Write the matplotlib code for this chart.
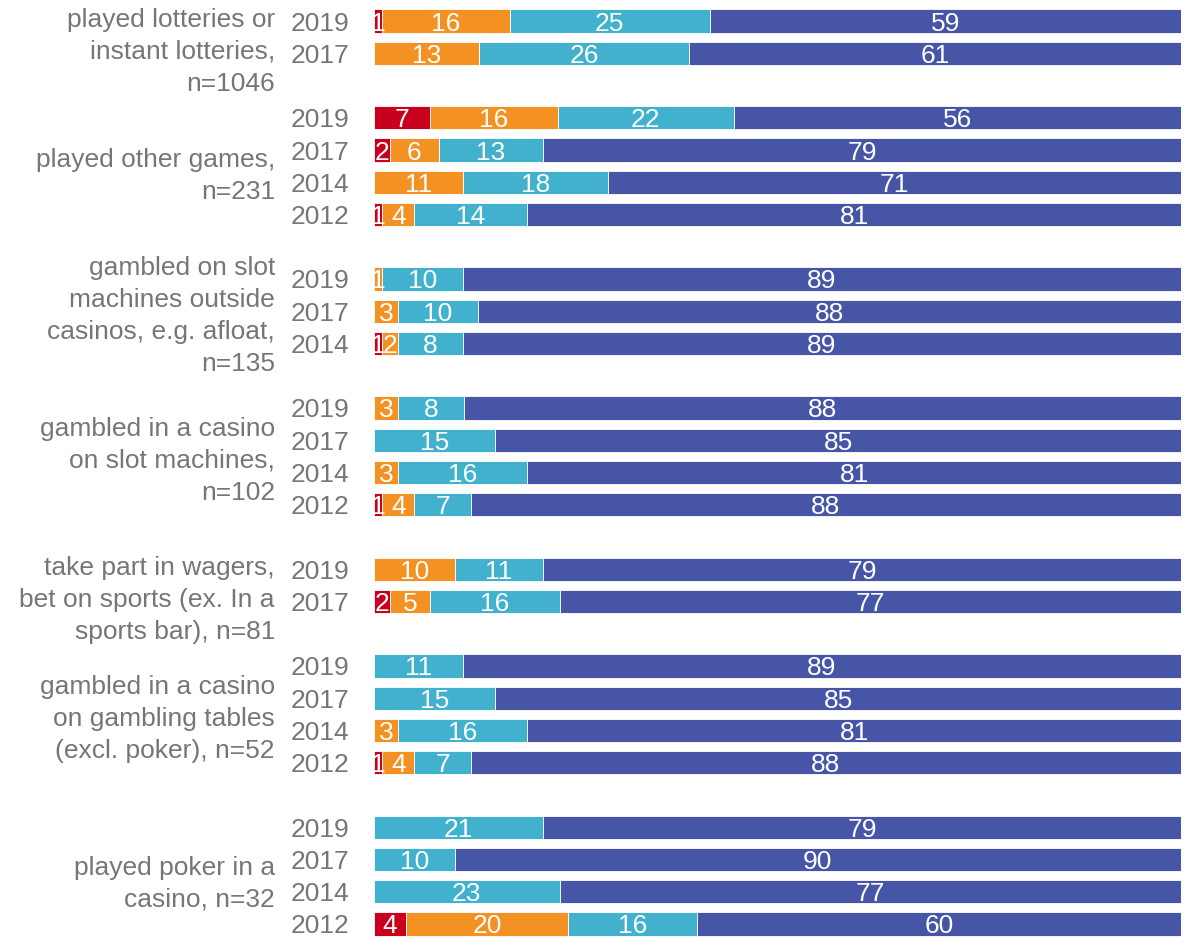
import numpy as np
import matplotlib.pyplot as plt

plt.rcParams["font.family"] = ["Liberation Sans", "DejaVu Sans"]

# groups, top to bottom
groups = [
    "played lotteries or\ninstant lotteries,\nn=1046",
    "played other games,\nn=231",
    "gambled on slot\nmachines outside\ncasinos, e.g. afloat,\nn=135",
    "gambled in a casino\non slot machines,\nn=102",
    "take part in wagers,\nbet on sports (ex. In a\nsports bar), n=81",
    "gambled in a casino\non gambling tables\n(excl. poker), n=52",
    "played poker in a\ncasino, n=32",
]
years = [
    ["2019", "2017"],
    ["2019", "2017", "2014", "2012"],
    ["2019", "2017", "2014"],
    ["2019", "2017", "2014", "2012"],
    ["2019", "2017"],
    ["2019", "2017", "2014", "2012"],
    ["2019", "2017", "2014", "2012"],
]

# four answer categories per row (red, orange, light blue, dark blue)
red = [
    [1, 0],
    [7, 2, 0, 1],
    [0, 0, 1],
    [0, 0, 0, 1],
    [0, 2],
    [0, 0, 0, 1],
    [0, 0, 0, 4],
]
orange = [
    [16, 13],
    [16, 6, 11, 4],
    [1, 3, 2],
    [3, 0, 3, 4],
    [10, 5],
    [0, 0, 3, 4],
    [0, 0, 0, 20],
]
light = [
    [25, 26],
    [22, 13, 18, 14],
    [10, 10, 8],
    [8, 15, 16, 7],
    [11, 16],
    [11, 15, 16, 7],
    [21, 10, 23, 16],
]
dark = [
    [59, 61],
    [56, 79, 71, 81],
    [89, 88, 89],
    [88, 85, 81, 88],
    [79, 77],
    [89, 85, 81, 88],
    [79, 90, 77, 60],
]

colors = ["#C8001E", "#F39222", "#41B1CE", "#4755A6"]
grey = "#767676"

# label centre of each group, in row units (layout)
label_y = [0.96, 4.81, 9.15, 13.64, 17.95, 21.64, 26.76]

fig = plt.figure(figsize=(11.94, 9.41), dpi=100)
ax = fig.add_axes([374 / 1194, 0.001, 807 / 1194, 0.9938])

pos = 0
for g in range(len(groups)):
    for i, yr in enumerate(years[g]):
        vals = np.array([red[g][i], orange[g][i], light[g][i], dark[g][i]], dtype=float)
        widths = vals / vals.sum() * 100
        left = 0.0
        for k in range(4):
            if vals[k] > 0:
                ax.barh(pos, widths[k], left=left, height=0.72, color=colors[k],
                        edgecolor="white", linewidth=0.6)
                ax.text(left + widths[k] / 2, pos, f"{int(vals[k])}", ha="center",
                        va="center_baseline", color="white", fontsize=19)
            left += widths[k]
        ax.text(-0.031, pos, yr, transform=ax.get_yaxis_transform(), ha="right",
                va="center_baseline", color=grey, fontsize=19)
        pos += 1
    ax.text(-0.1227, label_y[g], groups[g], transform=ax.get_yaxis_transform(),
            ha="right", va="center", color=grey, fontsize=19, linespacing=1.41)
    pos += 1

ax.set_xlim(0, 100)
ax.set_ylim(pos - 1.5, -0.5)
ax.axis("off")

fig.savefig("out.png", dpi=100)
